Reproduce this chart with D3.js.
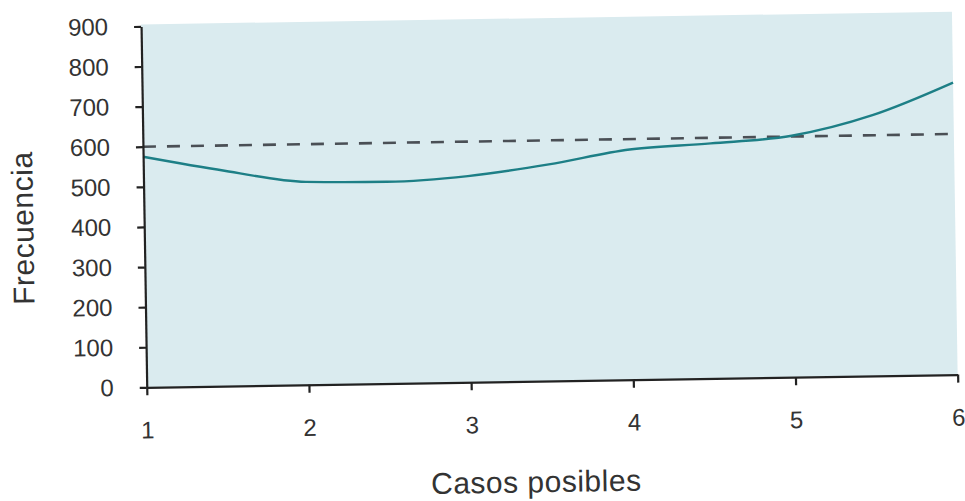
<!DOCTYPE html>
<html>
<head>
<meta charset="utf-8">
<script src="https://cdn.jsdelivr.net/npm/d3@7/dist/d3.min.js"></script>
<style>
  html, body { margin: 0; padding: 0; background: #ffffff; }
  svg { display: block; }
  text { font-family: "Liberation Sans", Arial, Helvetica, sans-serif; }
</style>
</head>
<body>
<svg id="chart" width="965" height="501"></svg>
<script>
// Observed frequency per possible outcome, sampled along the curve
const casos = [1, 1.5, 2, 2.5, 3, 3.5, 4, 4.5, 5, 5.5, 6];
const frecuencia = [575, 537, 506, 503, 514, 540, 574, 586, 602, 650, 728];
// Expected frequency (reference line)
const esperada = 600;
// Axis ticks
const xTicks = [1, 2, 3, 4, 5, 6];
const yTicks = [0, 100, 200, 300, 400, 500, 600, 700, 800, 900];

const svg = d3.select("#chart");
const plotLeft = 144, plotRight = 955, plotTop = 20, plotBottom = 381;

// The printed figure sits slightly turned on the page
const g = svg.append("g").attr("transform", "rotate(-0.9, 550, 210)");

const x = d3.scaleLinear().domain([1, 6]).range([plotLeft, plotRight]);
const y = d3.scaleLinear().domain([0, 900]).range([plotBottom, plotTop]);

// Tinted plotting area
g.append("rect")
  .attr("x", plotLeft).attr("y", plotTop - 2)
  .attr("width", plotRight - plotLeft).attr("height", plotBottom - plotTop + 2)
  .attr("fill", "#daebef");

// Expected-frequency dashed line
g.append("line")
  .attr("x1", x(1)).attr("x2", x(6))
  .attr("y1", y(esperada)).attr("y2", y(esperada))
  .attr("stroke", "#4a4f55")
  .attr("stroke-width", 2.6)
  .attr("stroke-dasharray", "13 11");

// Observed curve
const line = d3.line()
  .x((d, i) => x(casos[i]))
  .y(d => y(d))
  .curve(d3.curveMonotoneX);

g.append("path")
  .datum(frecuencia)
  .attr("d", line)
  .attr("fill", "none")
  .attr("stroke", "#1d7f86")
  .attr("stroke-width", 2.4);

// Axes
const xAxis = d3.axisBottom(x).tickValues(xTicks).tickFormat(d3.format("d"))
  .tickSizeInner(8).tickSizeOuter(0).tickPadding(26);
const yAxis = d3.axisLeft(y).tickValues(yTicks).tickFormat(d3.format("d"))
  .tickSizeInner(7).tickSizeOuter(0).tickPadding(26);

const gx = g.append("g").attr("transform", `translate(0,${plotBottom})`).call(xAxis);
const gy = g.append("g").attr("transform", `translate(${plotLeft},0)`).call(yAxis);

[gx, gy].forEach(a => {
  a.select(".domain").attr("stroke", "#222").attr("stroke-width", 2.2);
  a.selectAll(".tick line").attr("stroke", "#222").attr("stroke-width", 2.2);
  a.selectAll(".tick text")
    .attr("fill", "#333")
    .style("font-size", "24px")
    .style("font-family", "'Liberation Sans', Arial, sans-serif");
});

// Axis titles
g.append("text")
  .attr("x", 532).attr("y", 492)
  .attr("text-anchor", "middle")
  .attr("fill", "#333")
  .style("font-size", "30px")
  .style("letter-spacing", "0.5px")
  .text("Casos posibles");

g.append("text")
  .attr("transform", "translate(33,220) rotate(-90)")
  .attr("text-anchor", "middle")
  .attr("fill", "#333")
  .style("font-size", "30px")
  .style("letter-spacing", "0.5px")
  .text("Frecuencia");
</script>
</body>
</html>
